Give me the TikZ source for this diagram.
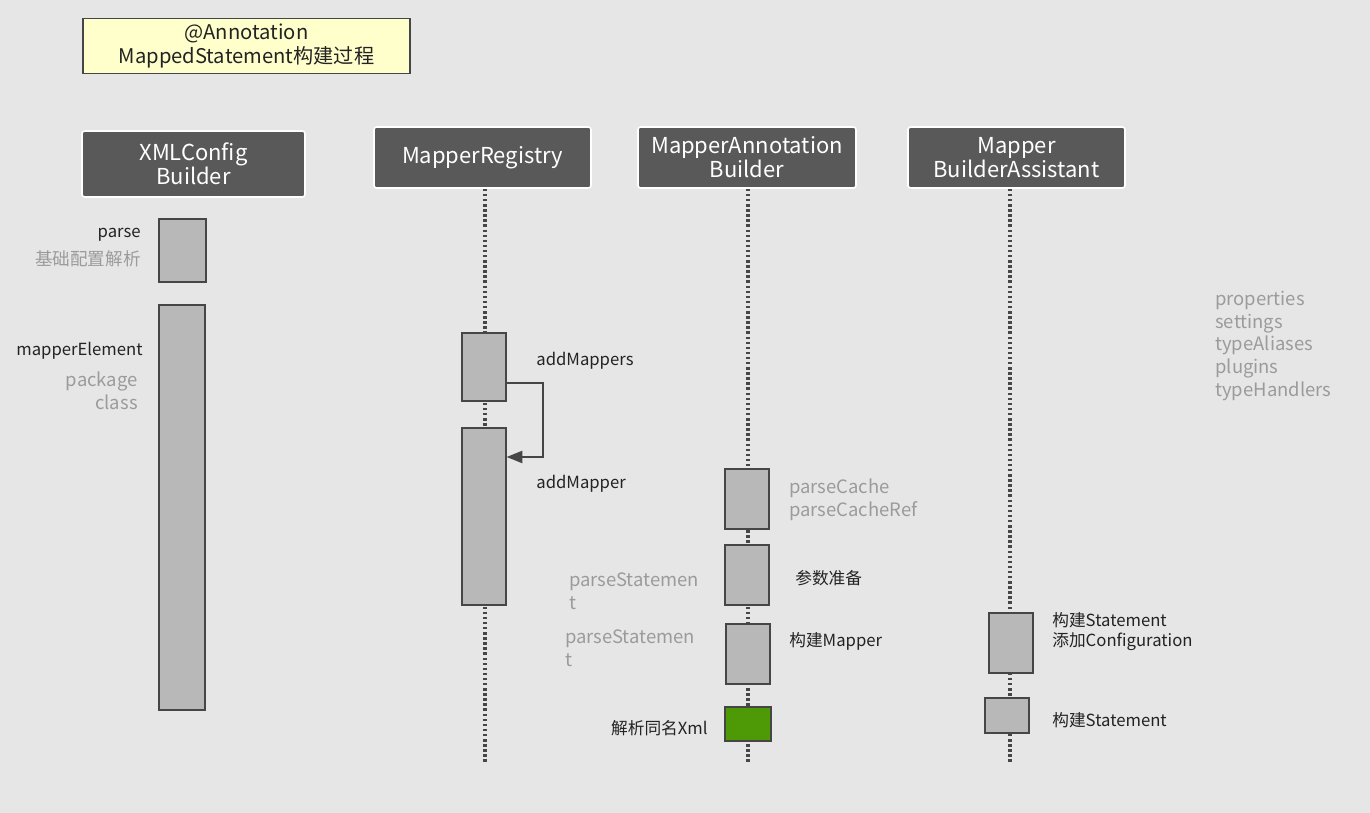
\documentclass[tikz,border=0pt]{standalone}
\usepackage{fontspec}
\setmainfont{Noto Sans CJK SC}
\usetikzlibrary{arrows.meta,fit}

\definecolor{bggrey}{RGB}{230,230,230}
\definecolor{headgrey}{RGB}{89,89,89}
\definecolor{actgrey}{RGB}{184,184,184}
\definecolor{linegrey}{RGB}{70,70,70}
\definecolor{textdark}{RGB}{35,35,35}
\definecolor{textgrey}{RGB}{155,155,155}
\definecolor{notefill}{RGB}{255,255,204}
\definecolor{xmlgreen}{RGB}{78,154,6}

\begin{document}
\begin{tikzpicture}[x=0.02cm, y=-0.02cm,
    head/.style={fill=headgrey, draw=white, line width=0.9pt, rounded corners=1.5pt,
        text=white, font=\fontsize{12.5}{13.6}\selectfont, align=center, inner sep=0pt},
    act/.style={fill=actgrey, draw=linegrey, line width=0.7pt, inner sep=0pt},
    lifeline/.style={draw=linegrey, line width=1.9pt, dash pattern=on 1.4pt off 1.5pt},
    selfcall/.style={draw=linegrey, line width=0.8pt, -{Triangle[length=9pt,width=7pt]}},
    call/.style={text=textdark, font=\fontsize{9.5}{11.3}\selectfont, inner sep=0pt},
    hint/.style={text=textgrey, font=\fontsize{10.5}{13}\selectfont, inner sep=0pt}
]

    %% Background
    \fill[bggrey] (0,0) rectangle (1370,813);

    % Title
    \node[fill=notefill, draw=linegrey, line width=0.7pt, inner sep=0pt,
        minimum width=6.54cm, minimum height=1.1cm, align=center, text=textdark,
        font=\fontsize{11.5}{14}\selectfont] (title) at (246.5,46)
        {@Annotation\\MappedStatement构建过程};

    % Lanes
    \node[head, minimum width=4.46cm, minimum height=1.32cm] (xmlcfg) at (193.5,164) {XMLConfig\\Builder};
    \node[head, minimum width=4.34cm, minimum height=1.22cm] (registry) at (482.5,157.5) {MapperRegistry};
    \node[head, minimum width=4.36cm, minimum height=1.22cm] (annobuilder) at (747,157.5) {MapperAnnotation\\Builder};
    \node[head, minimum width=4.34cm, minimum height=1.22cm] (assistant) at (1016.5,157.5) {Mapper\\BuilderAssistant};

    % Lifelines
    \coordinate (registryEnd) at (485,762);
    \coordinate (annobuilderEnd) at (748,762);
    \coordinate (assistantEnd) at (1010,762);
    \draw[lifeline] (registryEnd |- registry.south) -- (registryEnd);
    \draw[lifeline] (annobuilderEnd |- annobuilder.south) -- (annobuilderEnd);
    \draw[lifeline] (assistantEnd |- assistant.south) -- (assistantEnd);

    % XMLConfigBuilder
    \node[act, fit={(159,219) (206,282)}] (parse) {};
    \node[act, fit={(159,305) (205,710)}] (mapperElement) {};
    \node[call, anchor=east] (parseLbl) at (141,235) {parse};
    \node[hint, anchor=east, font=\fontsize{10}{13}\selectfont] (parseHint) at (141,259) {基础配置解析};
    \node[call, anchor=east] (mapperElementLbl) at (143,351) {mapperElement};
    \node[hint, anchor=east, align=right] (mapperElementHint) at (138,391) {package\\class};

    % MapperRegistry
    \node[act, fit={(462,333) (506,401)}] (addMappers) {};
    \node[act, fit={(462,428) (506,605)}] (addMapper) {};
    \node[call, anchor=west] (addMappersLbl) at (536,361) {addMappers};
    \node[call, anchor=west] (addMapperLbl) at (536,484) {addMapper};

    \coordinate (turnTop) at (543,383);
    \coordinate (turnBot) at (543,457);
    \draw[selfcall] (addMappers.east |- turnTop) -- (turnTop)
        -- (turnBot) -- (addMapper.east |- turnBot);

    % MapperAnnotationBuilder
    \node[act, fit={(725,469) (769,529)}] (parseCache) {};
    \node[act, fit={(725,545) (769,605)}] (prepare) {};
    \node[act, fit={(726,624) (770,684)}] (buildMapper) {};
    \node[act, fill=xmlgreen, fit={(725,707) (771,741)}] (loadXml) {};
    \node[hint, anchor=west, align=left] (parseCacheHint) at (789,500) {parseCache\\parseCacheRef};
    \node[call, anchor=west] (prepareLbl) at (795,578) {参数准备};
    \node[hint, anchor=west, align=left] (stmtHintA) at (569,591) {parseStatemen\\t};
    \node[hint, anchor=west, align=left] (stmtHintB) at (565,648) {parseStatemen\\t};
    \node[call, anchor=west] (buildMapperLbl) at (789,641) {构建Mapper};
    \node[call, anchor=east] (loadXmlLbl) at (708,728) {解析同名Xml};

    % MapperBuilderAssistant
    \node[act, fit={(989,613) (1033,673)}] (addStatement) {};
    \node[act, fit={(985,698) (1029,733)}] (buildStatement) {};
    \node[call, anchor=west, align=left] (addStatementLbl) at (1052,632) {构建Statement\\添加Configuration};
    \node[call, anchor=west] (buildStatementLbl) at (1052,720) {构建Statement};

    % config elements
    \node[hint, anchor=west, align=left] (configHint) at (1215,346)
        {properties\\settings\\typeAliases\\plugins\\typeHandlers};

\end{tikzpicture}
\end{document}
